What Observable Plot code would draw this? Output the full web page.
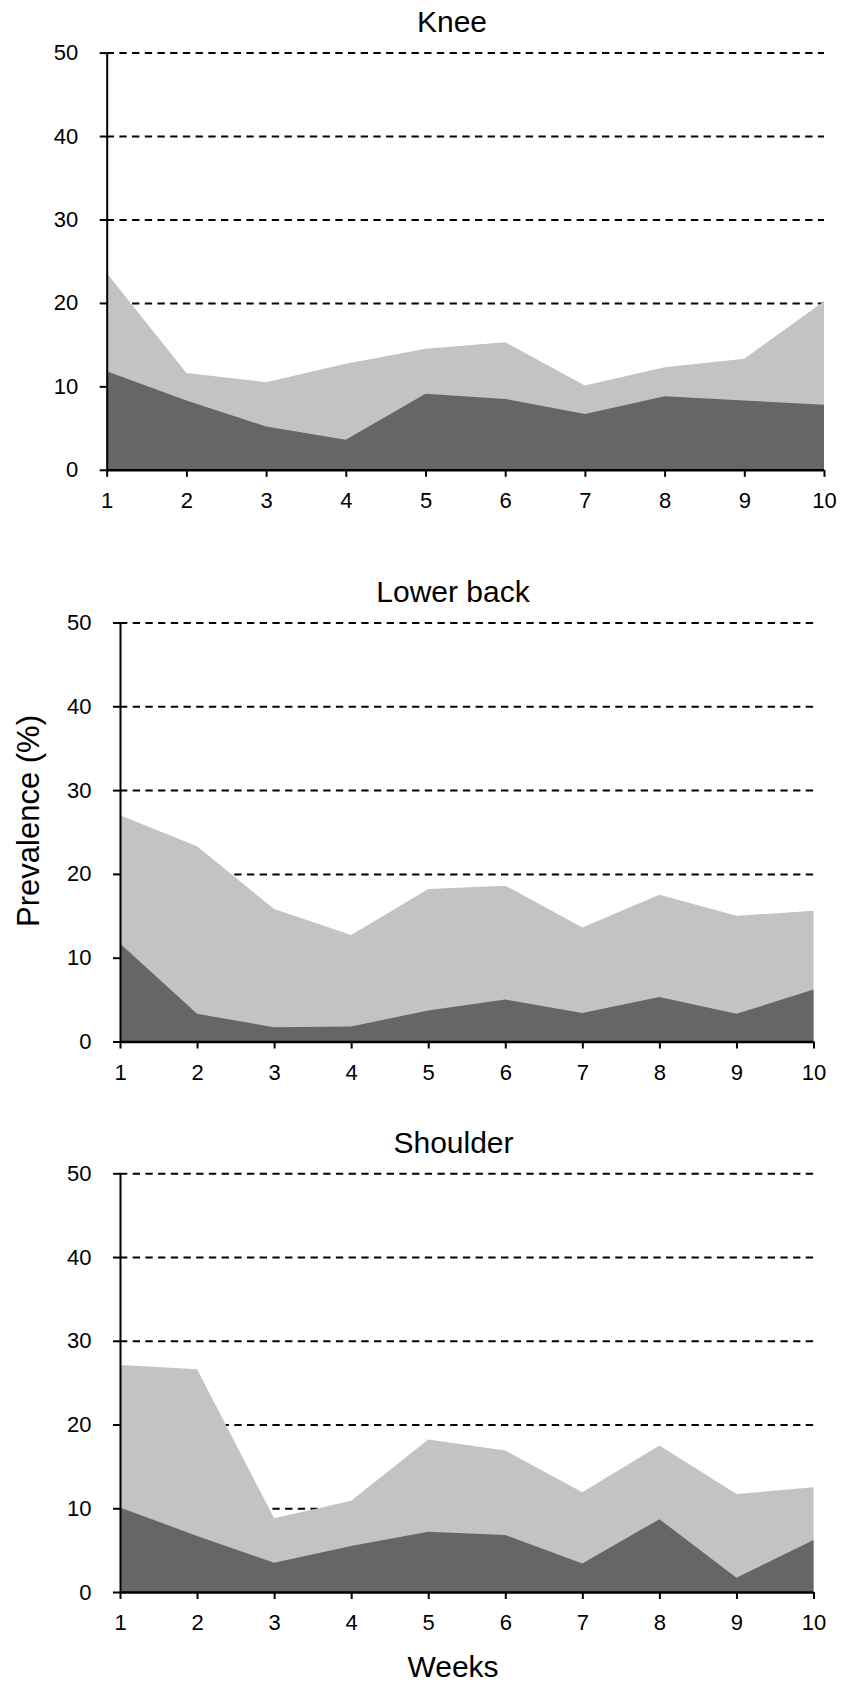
<!DOCTYPE html>
<html>
<head>
<meta charset="utf-8">
<script src="https://cdn.jsdelivr.net/npm/d3@7"></script>
<script src="https://cdn.jsdelivr.net/npm/@observablehq/plot@0.6"></script>
<style>
  html, body { margin: 0; padding: 0; background: white; }
  #root { position: relative; width: 841px; height: 1684px; overflow: hidden; font-family: 'Liberation Sans', Arial, Helvetica, sans-serif; color: black; }
  .panel { position: absolute; left: 0; }
  .txt { position: absolute; white-space: nowrap; line-height: 1; font-size: 30px; transform: translateX(-50%); }
  #ylab { position: absolute; white-space: nowrap; line-height: 1; font-size: 31px; left: 28px; top: 821px; transform: translate(-50%, -50%) rotate(-90deg); }
</style>
</head>
<body>
<div id="root"></div>
<script>
// ---- data ----
const weeks = [1, 2, 3, 4, 5, 6, 7, 8, 9, 10];
const yTicks = [0, 10, 20, 30, 40, 50];
const gridValues = [10, 20, 30, 40, 50];
const panelTitles = ["Knee", "Lower back", "Shoulder"];

// light grey area (upper series) and dark grey area (lower series), prevalence %
const kneeUpper      = [23.6, 11.6, 10.5, 12.7, 14.5, 15.3, 10.1, 12.3, 13.3, 20.2];
const kneeLower      = [11.8,  8.3,  5.2,  3.6,  9.1,  8.5,  6.7,  8.8,  8.3,  7.8];
const lowerBackUpper = [27.0, 23.3, 15.8, 12.7, 18.2, 18.6, 13.6, 17.5, 15.0, 15.6];
const lowerBackLower = [11.7,  3.3,  1.7,  1.8,  3.7,  5.0,  3.4,  5.3,  3.3,  6.2];
const shoulderUpper  = [27.1, 26.6,  8.8, 10.9, 18.2, 16.9, 11.9, 17.5, 11.7, 12.5];
const shoulderLower  = [10.1,  6.7,  3.5,  5.5,  7.2,  6.8,  3.4,  8.7,  1.7,  6.2];

const xLabel = "Weeks";
const yLabel = "Prevalence (%)";

// ---- drawing ----
const root = document.getElementById("root");
const FONT = "'Liberation Sans', Arial, Helvetica, sans-serif";

function panel(upper, lower, layout) {
  const data = weeks.map((w, i) => ({week: w, upper: upper[i], lower: lower[i]}));
  const svg = Plot.plot({
    width: 841,
    height: layout.height,
    marginTop: layout.mt,
    marginBottom: layout.mb,
    marginLeft: layout.ml,
    marginRight: layout.mr,
    style: {fontFamily: FONT, background: "transparent", color: "black", overflow: "visible"},
    x: {domain: [1, 10]},
    y: {domain: [0, 50]},
    marks: [
      Plot.ruleY(gridValues, {stroke: "black", strokeWidth: 2, strokeDasharray: "7.3,5.4"}),
      Plot.areaY(data, {x: "week", y: "upper", fill: "#c3c3c3"}),
      Plot.areaY(data, {x: "week", y: "lower", fill: "#666666"}),
      Plot.axisX({ticks: weeks, tickFormat: d => String(d), tickSize: 7, tickPadding: 15, fontSize: 22, label: null, strokeWidth: 2}),
      Plot.axisY({ticks: yTicks, tickSize: 7, tickPadding: 22, fontSize: 22, label: null, strokeWidth: 2}),
      Plot.ruleX([1], {stroke: "black", strokeWidth: 2}),
      Plot.ruleY([0], {stroke: "black", strokeWidth: 2.5})
    ]
  });
  svg.classList.add("panel");
  svg.style.top = layout.top + "px";
  root.appendChild(svg);
}

function label(text, cx, top, cls) {
  const d = document.createElement("div");
  d.className = cls || "txt";
  d.textContent = text;
  d.style.left = cx + "px";
  d.style.top = top + "px";
  root.appendChild(d);
}

panel(kneeUpper, kneeLower,           {top: 0,    height: 520, mt: 52.6, mb: 50.2, ml: 106.7, mr: 17});
panel(lowerBackUpper, lowerBackLower, {top: 560,  height: 540, mt: 62.5, mb: 58.5, ml: 120,   mr: 27.5});
panel(shoulderUpper, shoulderLower,   {top: 1110, height: 574, mt: 63.3, mb: 92,   ml: 120,   mr: 27.5});

label(panelTitles[0], 452, 7);
label(panelTitles[1], 453, 577);
label(panelTitles[2], 453.5, 1128);
label(xLabel, 453, 1651.5);

const yl = document.createElement("div");
yl.id = "ylab";
yl.textContent = yLabel;
root.appendChild(yl);
</script>
</body>
</html>
